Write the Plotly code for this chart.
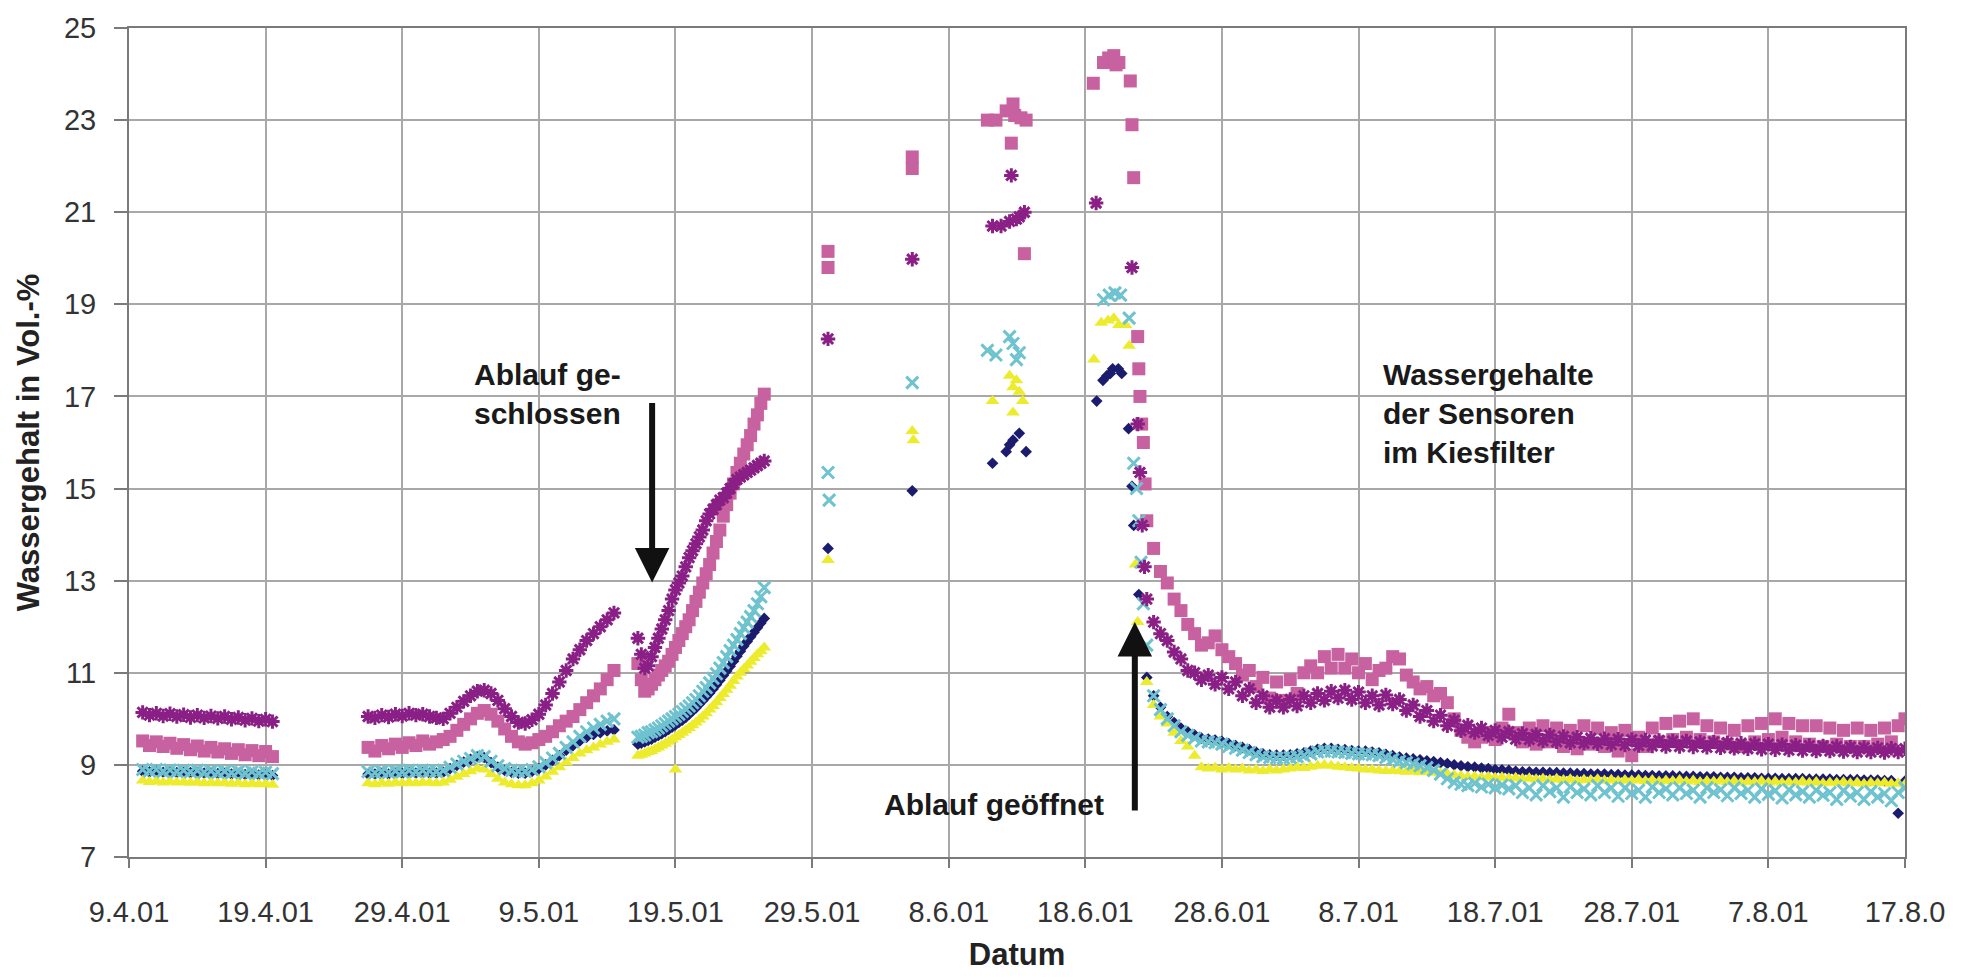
import pandas as pd
import plotly.graph_objects as go

# ---------------- tick labels ----------------
tick_dates = ["2001-04-09", "2001-04-19", "2001-04-29", "2001-05-09", "2001-05-19",
              "2001-05-29", "2001-06-08", "2001-06-18", "2001-06-28", "2001-07-08",
              "2001-07-18", "2001-07-28", "2001-08-07", "2001-08-17"]
tick_text = ["9.4.01", "19.4.01", "29.4.01", "9.5.01", "19.5.01", "29.5.01", "8.6.01",
             "18.6.01", "28.6.01", "8.7.01", "18.7.01", "28.7.01", "7.8.01", "17.8.0"]
y_ticks = [7, 9, 11, 13, 15, 17, 19, 21, 23, 25]

# ---------------- dense segments (sample grid start, step) ----------------
seg_a_start, seg_a_step = "2001-04-10 00:00", "12h"
seg_b1_start, seg_b1_step = "2001-04-26 12:00", "12h"
seg_b2_start, seg_b2_step = "2001-05-16 06:00", "6h"
seg_d_start, seg_d_step = "2001-06-22 12:00", "12h"

# Sensor 1 (navy diamonds)
navy_a = [8.86, 8.85, 8.86, 8.84, 8.85, 8.83, 8.84, 8.83, 8.83, 8.82, 8.82, 8.81, 8.81, 8.80, 8.80, 8.79, 8.79, 8.78, 8.78, 8.77]
navy_b1 = [8.80, 8.80, 8.81, 8.80, 8.82, 8.81, 8.83, 8.82, 8.83, 8.82, 8.82, 8.84, 8.92, 8.99, 9.06, 9.12, 9.18, 9.16, 9.05, 8.95,
           8.88, 8.84, 8.82, 8.82, 8.86, 8.92, 9.00, 9.10, 9.20, 9.32, 9.42, 9.52, 9.60, 9.66, 9.70, 9.74, 9.76]
navy_b2 = [9.45, 9.47, 9.50, 9.53, 9.56, 9.60, 9.64, 9.68, 9.72, 9.77, 9.82, 9.87, 9.92, 9.97, 10.03, 10.10, 10.17, 10.24, 10.32, 10.40,
           10.48, 10.56, 10.65, 10.74, 10.84, 10.94, 11.04, 11.14, 11.25, 11.36, 11.47, 11.58, 11.68, 11.78, 11.88, 11.98, 12.08, 12.18]
navy_d = [10.9, 10.5, 10.25, 10.05, 9.92, 9.8, 9.72, 9.65, 9.58, 9.56, 9.54, 9.51, 9.46, 9.42, 9.38, 9.33, 9.28, 9.24, 9.22, 9.21,
          9.21, 9.22, 9.24, 9.26, 9.3, 9.34, 9.36, 9.36, 9.34, 9.33, 9.31, 9.3, 9.3, 9.28, 9.26, 9.23, 9.2, 9.17, 9.15, 9.13,
          9.11, 9.09, 9.07, 9.05, 9.03, 9.0, 8.98, 8.96, 8.95, 8.93, 8.92, 8.9, 8.89, 8.88,
          8.86, 8.85, 8.85, 8.84, 8.84, 8.83, 8.83, 8.82, 8.82, 8.81, 8.81, 8.8, 8.8, 8.8, 8.79, 8.79, 8.78, 8.78, 8.78, 8.77,
          8.77, 8.76, 8.76, 8.76, 8.75, 8.75, 8.75, 8.74, 8.74, 8.74, 8.73, 8.73, 8.73, 8.72, 8.72, 8.72, 8.71, 8.71, 8.71, 8.7,
          8.7, 8.7, 8.7, 8.69, 8.69, 8.69, 8.69, 8.68, 8.68, 8.68, 8.68, 8.67, 8.67, 8.67, 8.66, 8.66, 7.95, 8.65]
navy_sparse_t = ["2001-05-30 04:00", "2001-06-05 08:00", "2001-06-11 05:00", "2001-06-12 05:00", "2001-06-12 11:00",
                 "2001-06-12 17:00", "2001-06-13 04:00", "2001-06-13 16:00", "2001-06-18 20:00", "2001-06-19 07:00",
                 "2001-06-19 14:00", "2001-06-19 20:00", "2001-06-20 00:00", "2001-06-20 10:00", "2001-06-20 16:00",
                 "2001-06-21 04:00", "2001-06-21 10:00", "2001-06-21 13:00", "2001-06-21 22:00", "2001-06-22 02:00"]
navy_sparse_v = [13.7, 14.95, 15.55, 15.8, 15.95, 16.05, 16.2, 15.8, 16.9, 17.35,
                 17.45, 17.5, 17.6, 17.6, 17.5, 16.3, 15.05, 14.2, 12.7, 11.5]

# Sensor 2 (pink squares)
pink_a = [9.52, 9.42, 9.50, 9.40, 9.47, 9.36, 9.44, 9.33, 9.41, 9.30, 9.38, 9.28, 9.35, 9.25, 9.33, 9.22, 9.31, 9.20, 9.29, 9.18]
pink_b1 = [9.38, 9.30, 9.42, 9.35, 9.45, 9.38, 9.48, 9.42, 9.52, 9.45, 9.50, 9.55, 9.62, 9.75, 9.88, 10.00, 10.12, 10.18, 10.10, 9.95,
           9.78, 9.62, 9.50, 9.45, 9.48, 9.55, 9.62, 9.72, 9.85, 9.95, 10.05, 10.20, 10.35, 10.50, 10.65, 10.85, 11.05]
pink_b2 = [11.20, 10.85, 10.60, 10.65, 10.75, 10.85, 10.95, 11.05, 11.15, 11.25, 11.40, 11.55, 11.70, 11.85, 12.00, 12.15, 12.35, 12.55, 12.75, 12.95,
           13.15, 13.35, 13.60, 13.85, 14.10, 14.40, 14.65, 14.90, 15.10, 15.35, 15.55, 15.75, 15.95, 16.15, 16.40, 16.60, 16.85, 17.05]
pink_d = [14.3, 13.7, 13.2, 12.95, 12.6, 12.35, 12.05, 11.85, 11.6, 11.65, 11.8, 11.5, 11.35, 11.2, 10.95, 11.05, 10.7, 10.9, 10.45, 10.8,
          10.4, 10.85, 10.55, 11.0, 11.15, 11.0, 11.35, 11.1, 11.4, 11.1, 11.3, 11.0, 11.2, 10.85, 11.05, 11.1, 11.35, 11.3, 10.95, 10.8,
          10.65, 10.7, 10.5, 10.55, 10.35, 10.0, 9.75, 9.6, 9.5, 9.6, 9.7, 9.55, 9.8, 10.1, 9.7, 9.5,
          9.8, 9.45, 9.85, 9.5, 9.8, 9.4, 9.75, 9.35, 9.85, 9.45, 9.8, 9.4, 9.7, 9.3, 9.75, 9.2, 9.6, 9.4, 9.8, 9.5,
          9.9, 9.55, 9.95, 9.6, 10.0, 9.55, 9.85, 9.5, 9.8, 9.45, 9.75, 9.4, 9.85, 9.5, 9.9, 9.55, 10.0, 9.6, 9.9, 9.5,
          9.85, 9.45, 9.85, 9.4, 9.8, 9.45, 9.75, 9.4, 9.8, 9.4, 9.75, 9.45, 9.8, 9.5, 9.85, 10.0]
pink_sparse_t = ["2001-05-30 04:00", "2001-05-30 04:00", "2001-06-05 08:00", "2001-06-05 08:00",
                 "2001-06-10 20:00", "2001-06-11 11:00", "2001-06-12 05:00", "2001-06-12 17:00", "2001-06-12 20:00",
                 "2001-06-13 07:00", "2001-06-13 16:00", "2001-06-12 14:00", "2001-06-13 13:00",
                 "2001-06-18 14:00", "2001-06-19 08:00", "2001-06-19 17:00", "2001-06-20 02:00", "2001-06-20 06:00",
                 "2001-06-20 11:00", "2001-06-21 07:00", "2001-06-21 10:00", "2001-06-21 13:00", "2001-06-21 20:00",
                 "2001-06-21 22:00", "2001-06-22 00:00", "2001-06-22 03:00", "2001-06-22 06:00", "2001-06-22 09:00"]
pink_sparse_v = [20.15, 19.8, 22.2, 21.95,
                 23.0, 23.0, 23.2, 23.35, 23.1,
                 23.05, 23.0, 22.5, 20.1,
                 23.8, 24.25, 24.35, 24.4, 24.2,
                 24.25, 23.85, 22.9, 21.75, 18.3,
                 17.6, 17.0, 16.4, 16.0, 15.1]

# Sensor 3 (yellow triangles)
yellow_a = [8.66, 8.63, 8.65, 8.62, 8.64, 8.62, 8.63, 8.61, 8.63, 8.60, 8.62, 8.60, 8.61, 8.59, 8.61, 8.58, 8.60, 8.58, 8.59, 8.57]
yellow_b1 = [8.60, 8.58, 8.61, 8.59, 8.62, 8.60, 8.62, 8.60, 8.62, 8.61, 8.60, 8.62, 8.68, 8.74, 8.80, 8.86, 8.92, 8.90, 8.80, 8.70,
             8.62, 8.58, 8.56, 8.56, 8.60, 8.66, 8.75, 8.85, 8.95, 9.05, 9.15, 9.25, 9.32, 9.38, 9.44, 9.50, 9.55]
yellow_b2 = [9.20, 9.22, 9.25, 9.28, 9.30, 9.34, 9.38, 9.42, 9.46, 9.50, 9.55, 9.60, 9.65, 9.70, 9.75, 9.80, 9.86, 9.92, 9.98, 10.05,
             10.12, 10.20, 10.28, 10.36, 10.45, 10.54, 10.63, 10.72, 10.82, 10.92, 11.00, 11.08, 11.16, 11.24, 11.32, 11.40, 11.47, 11.55]
yellow_d = [10.8, 10.3, 10.05, 9.9, 9.7, 9.52, 9.4, 9.2, 8.95, 8.92, 8.94, 8.9, 8.93, 8.9, 8.92, 8.88, 8.9, 8.87, 8.9, 8.88,
            8.9, 8.92, 8.95, 8.93, 8.96, 8.98, 9.0, 8.98, 8.96, 8.95, 8.93, 8.92, 8.9, 8.9, 8.88, 8.87, 8.88, 8.86, 8.85, 8.86,
            8.84, 8.85, 8.83, 8.82, 8.8, 8.78, 8.76, 8.74, 8.75, 8.73, 8.74, 8.72,
            8.73, 8.71, 8.72, 8.7, 8.71, 8.69, 8.7, 8.68, 8.7, 8.67, 8.69, 8.66, 8.68, 8.67, 8.69, 8.66, 8.68, 8.65, 8.67, 8.66,
            8.68, 8.65, 8.67, 8.64, 8.66, 8.65, 8.67, 8.64, 8.66, 8.63, 8.65, 8.64, 8.66, 8.63, 8.65, 8.62, 8.64, 8.63, 8.65, 8.62,
            8.64, 8.61, 8.63, 8.62, 8.64, 8.61, 8.63, 8.6, 8.62, 8.61, 8.63, 8.6, 8.62, 8.59, 8.61, 8.6, 8.62, 8.59, 8.6, 8.58]
yellow_sparse_t = ["2001-05-19 00:00", "2001-05-30 04:00", "2001-06-05 08:00", "2001-06-05 10:00",
                   "2001-06-11 05:00", "2001-06-12 11:00", "2001-06-12 17:00", "2001-06-12 23:00", "2001-06-13 10:00",
                   "2001-06-12 17:00", "2001-06-13 04:00",
                   "2001-06-18 15:00", "2001-06-19 04:00", "2001-06-19 16:00", "2001-06-20 02:00", "2001-06-20 11:00",
                   "2001-06-20 23:00", "2001-06-21 05:00", "2001-06-21 16:00", "2001-06-21 20:00", "2001-06-22 02:00"]
yellow_sparse_v = [8.9, 13.45, 16.25, 16.05,
                   16.9, 17.45, 17.2, 17.35, 16.9,
                   16.65, 17.1,
                   17.8, 18.6, 18.65, 18.7, 18.55,
                   18.55, 18.1, 13.35, 12.1, 11.6]

# Sensor 4 (cyan x)
cyan_a = [8.90, 8.87, 8.90, 8.86, 8.89, 8.86, 8.88, 8.85, 8.88, 8.84, 8.87, 8.84, 8.86, 8.83, 8.86, 8.82, 8.85, 8.82, 8.84, 8.81]
cyan_b1 = [8.85, 8.83, 8.86, 8.84, 8.87, 8.85, 8.88, 8.86, 8.88, 8.87, 8.86, 8.88, 8.95, 9.02, 9.08, 9.14, 9.20, 9.18, 9.08, 8.98,
           8.92, 8.88, 8.86, 8.86, 8.90, 8.96, 9.05, 9.15, 9.25, 9.38, 9.50, 9.62, 9.72, 9.80, 9.88, 9.95, 10.00]
cyan_b2 = [9.60, 9.62, 9.65, 9.70, 9.72, 9.76, 9.80, 9.85, 9.90, 9.95, 10.00, 10.05, 10.10, 10.16, 10.22, 10.28, 10.35, 10.42, 10.50, 10.60,
           10.68, 10.78, 10.88, 10.98, 11.10, 11.22, 11.35, 11.48, 11.60, 11.72, 11.85, 11.98, 12.10, 12.22, 12.35, 12.50, 12.65, 12.85]
cyan_d = [11.6, 10.5, 10.2, 10.0, 9.85, 9.72, 9.64, 9.58, 9.52, 9.5, 9.48, 9.45, 9.4, 9.36, 9.32, 9.27, 9.22, 9.18, 9.16, 9.15,
          9.15, 9.16, 9.18, 9.2, 9.24, 9.28, 9.3, 9.3, 9.28, 9.27, 9.25, 9.24, 9.24, 9.22, 9.2, 9.16, 9.12, 9.08, 9.05, 9.02,
          8.98, 8.94, 8.88, 8.8, 8.7, 8.62, 8.58, 8.55, 8.6, 8.52, 8.58, 8.5, 8.56, 8.48,
          8.55, 8.4, 8.5, 8.35, 8.55, 8.42, 8.5, 8.3, 8.52, 8.4, 8.48, 8.35, 8.55, 8.4, 8.5, 8.32, 8.5, 8.38, 8.45, 8.3,
          8.52, 8.4, 8.48, 8.35, 8.5, 8.38, 8.45, 8.3, 8.5, 8.4, 8.46, 8.33, 8.5, 8.38, 8.45, 8.3, 8.48, 8.36, 8.44, 8.28,
          8.46, 8.35, 8.42, 8.3, 8.45, 8.34, 8.4, 8.25, 8.44, 8.32, 8.4, 8.25, 8.42, 8.3, 8.38, 8.22, 8.4, 8.5]
cyan_sparse_t = ["2001-05-30 04:00", "2001-05-30 06:00", "2001-06-05 08:00",
                 "2001-06-10 20:00", "2001-06-11 11:00", "2001-06-12 11:00", "2001-06-12 17:00", "2001-06-12 23:00",
                 "2001-06-13 04:00", "2001-06-19 08:00", "2001-06-19 18:00", "2001-06-20 04:00", "2001-06-20 14:00",
                 "2001-06-21 05:00", "2001-06-21 13:00", "2001-06-21 18:00", "2001-06-21 22:00", "2001-06-22 02:00",
                 "2001-06-22 06:00"]
cyan_sparse_v = [15.35, 14.75, 17.3,
                 18.0, 17.9, 18.3, 18.15, 17.8,
                 17.95, 19.1, 19.2, 19.25, 19.2,
                 18.7, 15.55, 15.0, 14.3, 13.4,
                 12.5]

# Sensor 5 (purple asterisks)
purple_a = [10.14, 10.08, 10.12, 10.06, 10.11, 10.05, 10.09, 10.03, 10.08, 10.02, 10.06, 10.01, 10.05, 9.99, 10.03, 9.97, 10.01, 9.95, 9.99, 9.94]
purple_b1 = [10.05, 10.02, 10.08, 10.04, 10.10, 10.06, 10.12, 10.08, 10.10, 10.05, 10.02, 10.00, 10.12, 10.25, 10.38, 10.50, 10.60, 10.62, 10.55, 10.40,
             10.22, 10.05, 9.92, 9.90, 9.98, 10.10, 10.30, 10.55, 10.80, 11.05, 11.30, 11.50, 11.70, 11.85, 12.00, 12.15, 12.30]
purple_b2 = [11.75, 11.40, 11.10, 11.15, 11.35, 11.55, 11.75, 11.95, 12.15, 12.35, 12.60, 12.80, 12.95, 13.10, 13.30, 13.50, 13.65, 13.80, 13.95, 14.10,
             14.30, 14.45, 14.55, 14.65, 14.75, 14.80, 14.90, 15.00, 15.10, 15.20, 15.25, 15.30, 15.35, 15.40, 15.45, 15.50, 15.55, 15.60]
purple_d = [12.6, 12.1, 11.85, 11.7, 11.45, 11.3, 11.05, 11.0, 10.85, 10.95, 10.75, 10.9, 10.65, 10.8, 10.5, 10.65, 10.35, 10.5, 10.25, 10.4,
            10.25, 10.42, 10.28, 10.5, 10.35, 10.55, 10.4, 10.6, 10.45, 10.62, 10.42, 10.58, 10.35, 10.5, 10.3, 10.52, 10.32, 10.42, 10.18, 10.3,
            10.05, 10.18, 9.95, 10.08, 9.85, 9.97, 9.74, 9.86, 9.7, 9.8, 9.64, 9.75,
            9.6, 9.72, 9.56, 9.68, 9.55, 9.66, 9.52, 9.65, 9.5, 9.62, 9.48, 9.6, 9.47, 9.58, 9.46, 9.57, 9.44, 9.56, 9.43, 9.55,
            9.42, 9.54, 9.41, 9.53, 9.4, 9.52, 9.4, 9.52, 9.39, 9.5, 9.38, 9.5, 9.37, 9.48, 9.36, 9.47, 9.35, 9.46, 9.34, 9.45,
            9.33, 9.44, 9.32, 9.43, 9.31, 9.42, 9.3, 9.41, 9.3, 9.4, 9.29, 9.39, 9.28, 9.38, 9.28, 9.37, 9.27, 9.36, 9.28, 9.35]
purple_sparse_t = ["2001-05-30 04:00", "2001-06-05 08:00",
                   "2001-06-12 14:00", "2001-06-11 05:00", "2001-06-11 20:00", "2001-06-12 11:00", "2001-06-12 23:00",
                   "2001-06-13 04:00", "2001-06-13 13:00", "2001-06-18 19:00", "2001-06-21 10:00",
                   "2001-06-21 20:00", "2001-06-22 00:00", "2001-06-22 04:00", "2001-06-22 08:00"]
purple_sparse_v = [18.25, 19.98,
                   21.8, 20.7, 20.7, 20.8, 20.85,
                   20.9, 21.0, 21.2, 19.8,
                   16.4, 15.35, 14.2, 13.3]


def build(a, b1, b2, d, st, sv):
    xs = []
    ys = []
    for start, step, vals in ((seg_a_start, seg_a_step, a), (seg_b1_start, seg_b1_step, b1),
                              (seg_b2_start, seg_b2_step, b2), (seg_d_start, seg_d_step, d)):
        xs += list(pd.date_range(start, periods=len(vals), freq=step))
        ys += list(vals)
    xs += list(pd.to_datetime(st))
    ys += list(sv)
    return xs, ys


series = [
    ("Sensor 1", build(navy_a, navy_b1, navy_b2, navy_d, navy_sparse_t, navy_sparse_v),
     dict(symbol="diamond", size=9, color="#1C1C6E")),
    ("Sensor 2", build(pink_a, pink_b1, pink_b2, pink_d, pink_sparse_t, pink_sparse_v),
     dict(symbol="square", size=13, color="#C8619F")),
    ("Sensor 3", build(yellow_a, yellow_b1, yellow_b2, yellow_d, yellow_sparse_t, yellow_sparse_v),
     dict(symbol="triangle-up", size=12, color="#ECEC2C")),
    ("Sensor 4", build(cyan_a, cyan_b1, cyan_b2, cyan_d, cyan_sparse_t, cyan_sparse_v),
     dict(symbol="x-thin-open", size=12, color="#6EC3CF", line=dict(width=3, color="#6EC3CF"))),
    ("Sensor 5", build(purple_a, purple_b1, purple_b2, purple_d, purple_sparse_t, purple_sparse_v),
     dict(symbol="asterisk-open", size=12, color="#8A1F86", line=dict(width=3, color="#8A1F86"))),
]

fig = go.Figure()
for name, (xs, ys), mk in series:
    fig.add_trace(go.Scatter(x=xs, y=ys, mode="markers", name=name, marker=mk, showlegend=False))

FONT = "Liberation Sans, Arial, Helvetica, sans-serif"
grid = "#A8A8A8"
axis_line = "#7A7A7A"

fig.update_layout(
    width=1962, height=978,
    margin=dict(l=129, r=57, t=24, b=118),
    paper_bgcolor="white", plot_bgcolor="white",
    font=dict(family=FONT, color="#222222"),
    showlegend=False,
)
fig.update_xaxes(
    type="date", range=["2001-04-09", "2001-08-17"],
    tickmode="array", tickvals=tick_dates, ticktext=tick_text,
    showgrid=True, gridcolor=grid, gridwidth=1.5,
    showline=True, linecolor=axis_line, linewidth=2, mirror=True,
    ticks="outside", ticklen=9, tickwidth=1.5, tickcolor=axis_line,
    tickfont=dict(size=29, color="#333333", family=FONT),
    ticklabelstandoff=19,
    title=dict(text="<b>Datum</b>", font=dict(size=31, color="#222222", family=FONT), standoff=17),
    zeroline=False,
)
fig.update_yaxes(
    range=[7, 25], tickmode="array", tickvals=y_ticks,
    showgrid=True, gridcolor=grid, gridwidth=1.5,
    showline=True, linecolor=axis_line, linewidth=2, mirror=True,
    ticks="outside", ticklen=13, tickwidth=1.5, tickcolor=axis_line,
    tickfont=dict(size=29, color="#333333", family=FONT),
    ticklabelstandoff=12,
    title=dict(text="<b>Wassergehalt in Vol.-%</b>", font=dict(size=31, color="#222222", family=FONT), standoff=15),
    zeroline=False,
)

ann_font = dict(size=30, color="#1A1A1A", family=FONT)
fig.add_annotation(x="2001-05-04 03:00", y=17.05, xref="x", yref="y",
                   text="<b>Ablauf ge-</b><br><b>schlossen</b>", showarrow=False,
                   xanchor="left", yanchor="middle", align="left", font=ann_font)
fig.add_annotation(x="2001-06-11 07:00", y=8.14, xref="x", yref="y",
                   text="<b>Ablauf geöffnet</b>", showarrow=False,
                   xanchor="center", yanchor="middle", font=ann_font)
fig.add_annotation(x="2001-07-09 16:00", y=16.62, xref="x", yref="y",
                   text="<b>Wassergehalte</b><br><b>der Sensoren</b><br><b>im Kiesfilter</b>", showarrow=False,
                   xanchor="left", yanchor="middle", align="left", font=ann_font)
# arrows
fig.add_annotation(x="2001-05-17 07:00", y=12.96, xref="x", yref="y", text="",
                   showarrow=True, ax=0, ay=-181, arrowhead=2, arrowsize=1.15, arrowwidth=6,
                   arrowcolor="#111111", standoff=0)
fig.add_annotation(x="2001-06-21 15:00", y=12.1, xref="x", yref="y", text="",
                   showarrow=True, ax=0, ay=190, arrowhead=2, arrowsize=1.15, arrowwidth=6,
                   arrowcolor="#111111", standoff=0)

fig.write_html("out.html")
